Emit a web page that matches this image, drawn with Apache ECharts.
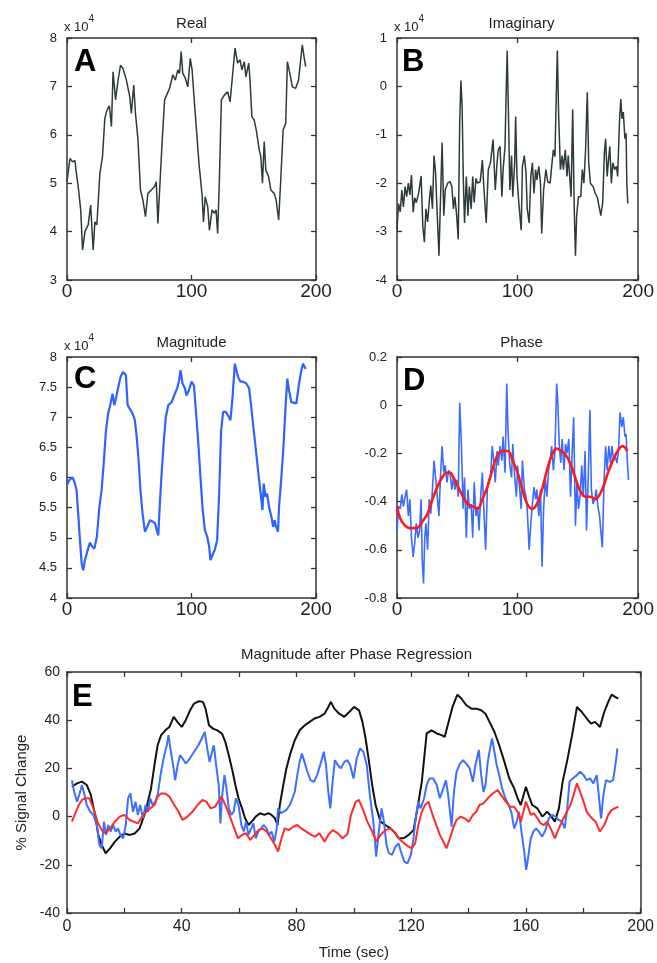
<!DOCTYPE html>
<html>
<head>
<meta charset="utf-8">
<script src="https://cdn.jsdelivr.net/npm/echarts@6/dist/echarts.min.js"></script>
<style>html,body{margin:0;padding:0;background:#fff}#chart{width:657px;height:963px}</style>
</head>
<body>
<div id="chart"></div>
<script>
// ---- Panel A: Real (x 10^4) ----
const realSeries = [[0,5.03],[2.4,5.51],[4.5,5.44],[6.4,5.47],[7.2,5.27],[9,4.93],[11,4.45],[12.5,3.62],[14.4,4.0],[17,4.14],[19,4.55],[21,3.62],[22.4,4.2],[24,4.14],[26.4,5.2],[28.5,5.55],[30.4,6.34],[32,6.5],[34,6.6],[35.7,6.17],[37,7.3],[39,6.72],[41,7.13],[43,7.44],[45,7.37],[47.7,7.13],[50.4,6.79],[51.7,6.44],[53.6,7.03],[55,6.44],[57,5.9],[59,4.86],[61,4.65],[63,4.31],[65,4.79],[67.7,4.86],[70.4,4.93],[71.7,5.03],[73,4.17],[74.4,4.86],[76.5,5.9],[78.4,6.72],[80,6.82],[82.4,6.96],[85,7.24],[87,7.13],[89,7.34],[90.4,7.27],[91.7,7.72],[93,7.27],[95,7.17],[97,6.99],[99,7.58],[100.5,7.34],[102,6.79],[104,6.1],[106,5.41],[108.5,4.76],[109.6,4.2],[111,4.72],[113,4.52],[114.4,4.03],[116.5,4.45],[118.4,4.38],[119.7,4.45],[121,3.96],[122.4,5.07],[124,6.72],[126.4,6.82],[129,6.89],[131,6.68],[133,7.24],[135,7.79],[137,7.48],[139,7.55],[140.5,7.34],[142.4,7.51],[143.7,7.2],[146,7.48],[147,7.13],[148.5,6.37],[150.4,6.3],[152,6.1],[154.4,5.69],[155.7,5.55],[157,5.0],[158.4,5.86],[159.7,5.27],[162,5.13],[163.7,4.86],[166.4,4.79],[168,4.65],[170,4.24],[171.7,5.07],[173.6,6.1],[175.7,6.24],[177,7.51],[179,7.27],[181,6.99],[183.7,6.96],[186,7.13],[187.7,7.55],[189,7.86],[190.4,7.61],[191.7,7.41]];

// ---- Panel B: Imaginary (x 10^4) ----
const imagSeries = [[0,-2.97],[1.3,-2.42],[2.7,-2.59],[4,-2.14],[5.3,-2.49],[6.7,-2.07],[8,-2.28],[9.4,-2.0],[10.7,-2.24],[12,-1.83],[13.4,-2.6],[14.7,-2.3],[16,-2.4],[18,-2.2],[20,-1.85],[21.4,-2.88],[22.7,-3.22],[24,-2.53],[25.4,-2.8],[26.7,-2.4],[28,-2.05],[29.4,-2.53],[30.7,-1.43],[32,-1.78],[33.4,-2.67],[34.8,-3.5],[36,-2.4],[37.4,-1.16],[38.8,-2.67],[40,-2.14],[42,-2.0],[44,-1.97],[45.5,-2.07],[46.8,-2.53],[48,-2.28],[49.5,-2.67],[50.8,-3.16],[52,-0.74],[53,0.12],[54,-0.4],[55,-1.93],[56,-2.82],[57.5,-1.86],[58.8,-2.67],[60,-2.07],[61.5,-2.53],[62.8,-1.86],[64,-2.4],[65.5,-1.9],[66.8,-2.0],[69,-1.97],[70.8,-1.52],[72,-2.07],[74,-2.82],[75.7,-1.72],[77.5,-1.58],[79.7,-1.1],[81.5,-2.14],[83,-1.58],[84,-1.31],[85.5,-1.24],[87,-2.28],[88,-1.72],[89.6,-1.24],[90.4,-0.26],[91.4,0.74],[92.5,-0.67],[93.6,-2.14],[95,-1.43],[96,-2.28],[97.6,-1.58],[98.4,-0.62],[99.5,-1.86],[101,-2.4],[103,-2.97],[104,-1.65],[105.6,-1.43],[107,-1.78],[108,-2.53],[109.6,-2.82],[111,-1.86],[112.3,-1.58],[113.6,-2.21],[115,-1.72],[116,-1.93],[117.6,-1.65],[119,-2.0],[120,-3.04],[121.6,-2.14],[123.5,-1.72],[125,-1.97],[127,-2.0],[128,-1.72],[129.7,-1.31],[131,-1.45],[132.4,0.15],[133,0.74],[134,-0.53],[135.5,-1.72],[137,-1.43],[138,-1.72],[139.6,-1.31],[141,-1.86],[142,-1.43],[144.4,-2.28],[145.7,-0.47],[147,-2.53],[148,-3.5],[149,-2.67],[150.5,-2.28],[152.4,-2.28],[153.7,-1.72],[155,-2.0],[156.4,-1.31],[157.8,-0.12],[159,-1.58],[160.4,-2.0],[162.6,-2.07],[164.4,-2.21],[166,-2.28],[168,-2.53],[169,-2.67],[170.6,-2.4],[172,-1.36],[173,-1.08],[174.3,-1.86],[175.4,-1.52],[176.5,-1.24],[177.8,-2.0],[179,-1.58],[180.5,-1.72],[182,-1.65],[183,-1.86],[184.5,-0.74],[185.6,-0.26],[186.6,-0.67],[187.7,-0.53],[189,-1.08],[190,-0.97],[190.6,-2.0],[191.4,-2.42]];

// ---- Panel C: Magnitude (x 10^4) ----
const magSeries = [[0,5.87],[1.9,5.96],[4.5,6.0],[6.4,5.9],[7.7,5.79],[9,5.4],[10.4,4.96],[11.8,4.57],[13,4.46],[14.4,4.63],[16.3,4.77],[18.4,4.92],[20.3,4.85],[22,4.82],[24,5.02],[26,5.51],[27.8,5.79],[29.7,6.29],[31.3,6.78],[33,7.06],[35,7.23],[36.6,7.39],[38,7.2],[39.3,7.31],[41,7.48],[43,7.67],[45,7.75],[47.3,7.7],[48.7,7.2],[50.5,7.14],[52.7,7.06],[54.5,6.95],[56,6.67],[57.5,6.29],[59,5.79],[60.7,5.4],[62.6,5.1],[64.4,5.18],[66.6,5.29],[68.7,5.27],[70.6,5.24],[72,5.27],[73.3,5.04],[74.6,5.57],[76,6.07],[77.8,6.62],[79.4,7.0],[81.3,7.2],[84,7.25],[86.6,7.39],[88.5,7.48],[90,7.61],[91.2,7.78],[92.8,7.56],[94.7,7.48],[96,7.36],[98,7.45],[100,7.59],[101.9,7.53],[103.5,7.12],[105.3,6.62],[107.2,6.01],[108.8,5.51],[110.7,5.13],[112.6,5.02],[114.2,4.85],[115.2,4.63],[116.8,4.71],[118.7,4.8],[120.6,4.96],[122.2,5.73],[123.8,6.78],[125.4,7.09],[127.5,7.09],[129.4,7.03],[131.3,6.95],[133,7.34],[134.8,7.89],[136,7.78],[137.4,7.67],[139.3,7.59],[141.4,7.59],[144,7.56],[146.3,7.48],[148,7.17],[150,6.78],[152,6.4],[154,6.01],[155.6,5.73],[157,5.46],[158,5.9],[159.4,5.68],[160.7,5.73],[162.3,5.51],[164.2,5.35],[165.5,5.18],[166.8,5.29],[168,5.18],[169.5,5.1],[170.3,5.51],[172.2,6.01],[174,6.56],[175.7,7.23],[177,7.64],[178.3,7.45],[180.2,7.25],[181.6,7.28],[184.2,7.23],[186.4,7.56],[188,7.75],[189.6,7.89],[191.7,7.8]];

// ---- Panel D: Phase (raw) and fitted ----
const phaseSeries = [[0,-0.53],[1.3,-0.42],[2.7,-0.43],[4,-0.37],[5.3,-0.42],[6.7,-0.38],[8,-0.35],[9.4,-0.46],[10.7,-0.39],[12,-0.55],[13.4,-0.63],[14.7,-0.57],[16,-0.49],[17.4,-0.55],[18.7,-0.52],[20,-0.39],[20.9,-0.64],[22,-0.74],[23,-0.55],[24,-0.49],[25.4,-0.6],[26.7,-0.39],[28,-0.45],[29.4,-0.35],[30.7,-0.23],[32,-0.3],[33.4,-0.38],[34.8,-0.46],[36,-0.3],[37.4,-0.17],[38.8,-0.28],[40,-0.25],[41.4,-0.32],[42.8,-0.27],[44,-0.28],[45.5,-0.35],[46.8,-0.3],[48,-0.35],[49.5,-0.31],[50.8,-0.38],[52,0.01],[53.5,-0.17],[54.8,-0.43],[56,-0.3],[57.5,-0.55],[58.8,-0.35],[60,-0.43],[61.5,-0.41],[62.8,-0.55],[64,-0.32],[65.5,-0.46],[66.8,-0.42],[68,-0.52],[69.5,-0.37],[70.8,-0.28],[72,-0.43],[73.5,-0.6],[74.9,-0.35],[76,-0.31],[77.5,-0.3],[79,-0.17],[80.2,-0.23],[81.5,-0.32],[83,-0.19],[84,-0.25],[85.5,-0.17],[87,-0.23],[88,-0.13],[89.6,-0.28],[91,0.09],[92,-0.1],[93.6,-0.25],[95,-0.3],[96,-0.16],[97.6,-0.3],[99,-0.38],[100,-0.25],[101.6,-0.34],[103,-0.43],[104,-0.23],[105.6,-0.35],[107,-0.38],[108,-0.43],[109.6,-0.6],[111,-0.49],[112.3,-0.41],[113.6,-0.34],[115,-0.39],[116,-0.35],[117.6,-0.46],[119,-0.35],[120.3,-0.67],[121.6,-0.43],[123,-0.3],[124.3,-0.38],[125.7,-0.27],[127,-0.23],[128.3,-0.17],[129.7,-0.27],[131,-0.19],[132.4,0.09],[133.4,0.01],[134.5,-0.16],[135.8,-0.24],[137,-0.14],[138.5,-0.27],[139.8,-0.16],[141,-0.2],[142.5,-0.14],[143.9,-0.38],[145,-0.23],[146.5,-0.05],[148,-0.5],[149.2,-0.32],[150.5,-0.43],[152,-0.37],[153.2,-0.25],[154.5,-0.38],[156,-0.19],[157.2,-0.52],[158.6,-0.3],[160,-0.02],[161.2,-0.35],[162.6,-0.41],[164,-0.39],[165.2,-0.35],[166.6,-0.42],[168,-0.46],[169.2,-0.53],[170.3,-0.59],[171.7,-0.32],[173,-0.17],[174.3,-0.27],[175.7,-0.17],[177,-0.24],[178.3,-0.17],[179.7,-0.23],[181,-0.21],[182.4,-0.24],[183.7,-0.19],[185,-0.03],[186.4,-0.09],[187.7,-0.05],[189,-0.13],[190,-0.12],[191,-0.23],[192,-0.31]];
const phaseFitSeries = [[0,-0.42],[2.7,-0.47],[6.7,-0.5],[10.7,-0.51],[16,-0.51],[21.4,-0.48],[25.4,-0.45],[29.4,-0.39],[33.4,-0.34],[37.4,-0.3],[41.4,-0.28],[44,-0.28],[46.8,-0.3],[50.8,-0.34],[54.8,-0.38],[58.8,-0.41],[62.8,-0.42],[66.8,-0.43],[70.8,-0.39],[74.9,-0.34],[79,-0.27],[83,-0.21],[87,-0.19],[89.6,-0.19],[92,-0.19],[96,-0.23],[100,-0.28],[104,-0.35],[108,-0.41],[112.3,-0.43],[116,-0.41],[120.3,-0.35],[124.3,-0.27],[128.3,-0.21],[132.4,-0.18],[136.4,-0.19],[140.4,-0.21],[144.4,-0.25],[148.4,-0.31],[152.4,-0.36],[156.4,-0.38],[160.4,-0.38],[164.4,-0.39],[167,-0.38],[171,-0.34],[175,-0.28],[179,-0.23],[183,-0.19],[187,-0.17],[191,-0.19]];

// ---- Panel E: % signal change ----
const eBlack = [[1.7,12.4],[3.5,13.8],[5.2,14.5],[6.9,13.1],[8.3,9],[9.8,0.7],[10.9,-7.6],[12.1,-11.8],[13.5,-15.2],[15,-13.2],[16.7,-10.4],[18.4,-8.3],[20,-7],[21.9,-7.6],[23.6,-7],[25.3,-4.9],[27,0.7],[28.2,6.2],[29.3,11.7],[30.5,21.4],[31.6,29.6],[32.8,33.8],[34.3,35.8],[35.7,37.2],[37.2,41.4],[38.5,39.3],[40,37.2],[41.4,40],[42.9,44.1],[44.3,46.9],[46,47.9],[47.4,47.6],[48.3,44.8],[49.5,37.9],[50.9,36.5],[52.4,35.8],[54,34.5],[55.2,31],[56.4,25.5],[57.5,20],[58.7,13.1],[59.8,7.6],[61,3.5],[62.1,-0.7],[63.3,-3.5],[64.4,-2.1],[65.8,0],[67.3,1.4],[68.8,0.7],[70.2,1.4],[71.3,0.7],[72.5,-0.7],[73.4,-3.5],[74.2,4.8],[75.4,13.1],[76.5,20],[77.7,25.5],[79.4,31.7],[81.1,35.8],[82.9,37.9],[84.6,39.3],[86.3,40.7],[88,41.4],[89.8,42.7],[91.1,45.5],[92,47.6],[93.2,44.8],[94.9,42.7],[96.7,41.4],[98.4,43.4],[100.1,45.5],[101.8,44.1],[103,39.3],[104.1,32.4],[105.3,22.7],[106.4,13.1],[107.6,4.8],[109.3,-2.1],[111,-3.5],[112.8,-4.9],[114.5,-6.9],[115.6,-9],[117.4,-9],[119.1,-7.6],[120.8,-5.6],[122,2],[123.7,14.5],[125.4,34.5],[127.1,35.8],[128.9,34.5],[130.6,33.8],[131.7,33.1],[132.9,38.6],[134.4,45.5],[136.1,50.6],[137.5,49],[139.2,46.2],[141,44.8],[142.7,44.8],[144.4,44.1],[145.9,42.7],[147.3,39.3],[149,35.2],[150.7,29.6],[152.5,22.7],[154.2,15.8],[155.9,11.7],[157.1,7.6],[158.2,4.8],[160,12.4],[161.1,8.3],[162.2,4.8],[164,3.4],[165.7,0],[167.4,2],[168.9,0],[170.1,-2.1],[171.5,3.4],[172.8,14.5],[174.3,22.7],[176.1,33.8],[177.8,45.5],[179.5,43.4],[181.2,40.7],[182.7,38.6],[184.1,39.3],[185.8,37.2],[187.3,43.4],[188.7,47.6],[189.9,50.6],[191.2,49.6],[192.2,49]];
const eBlue = [[1.7,15.1],[2.5,10.3],[3.5,6.2],[4.4,9.6],[5.2,13.1],[6,9.6],[6.9,4.8],[8.1,2],[9.2,0.7],[10.4,-3.5],[11.3,-11.8],[12.1,-13.2],[12.9,-2.1],[13.6,-7.6],[14.4,-3.5],[15.2,-6.2],[16.1,-3.5],[17,-6.2],[17.8,-4.9],[18.6,-7.6],[19.6,-9],[20.5,-3.5],[21.3,7.6],[22.1,9.6],[23,2],[23.9,6.2],[24.7,0.7],[25.5,4.8],[26.5,-0.7],[27.4,4.8],[28.2,2],[29,7.6],[29.9,4.8],[30.8,6.2],[31.6,9],[32.8,18.6],[33.9,25.5],[34.8,29.6],[35.4,33.8],[36.2,26.9],[37,21.4],[37.7,15.1],[38.6,21.4],[39.4,25.5],[40.3,24.1],[41.4,22],[42.8,24.1],[44.3,26.9],[45.8,29.6],[47,32.4],[48,35.2],[48.9,28.3],[49.7,22.7],[50.6,26.9],[51.2,29.6],[52,21.4],[52.9,13.1],[53.5,-2.8],[54,7.6],[54.9,17.2],[55.6,11.7],[56.4,3.4],[57.3,0.7],[58.1,2],[58.9,7.6],[59.8,4.8],[60.8,-3.5],[61.6,-6.2],[62.4,-2.1],[63.3,-7.6],[64.2,-4.9],[65,-2.8],[65.8,-9],[66.7,-6.2],[67.7,-4.9],[68.5,-3.5],[69.6,-4.9],[70.4,-7.6],[71.3,-6.2],[72.3,-10.4],[73.1,-4.9],[73.6,3.4],[74.6,1.4],[75.4,2],[76.5,2.8],[77.7,4.8],[78.6,7.6],[79.4,10.3],[80.3,17.2],[81.1,22.7],[81.9,26.2],[82.8,22.7],[83.8,18.6],[84.9,15.1],[86.1,14.4],[87.2,17.2],[88.6,22.7],[89.5,26.9],[90.3,21.4],[91.1,10.3],[91.8,3.4],[92.6,14.4],[93.4,23.4],[94.4,21.4],[95.5,20],[96.7,22.7],[97.8,23.4],[98.7,21.4],[99.9,15.8],[101,24.1],[102.2,28.3],[103.3,26.9],[104.5,21.4],[105.6,8.9],[106.8,-2.1],[107.8,-16.6],[108.7,-6.2],[109.7,3.4],[110.5,-2.1],[111.4,-11.8],[112.2,-15.2],[113.3,-15.9],[114.5,-12.5],[115.6,-11.1],[116.4,-14.5],[117.6,-18.7],[118.7,-19.4],[119.9,-15.9],[120.8,-9],[121.7,0.7],[122.5,6.2],[123.3,3.4],[124.5,7.6],[125.4,13.1],[126.3,15.8],[127.7,15.8],[128.9,13.1],[130,7.6],[131.2,11.7],[132.1,15.1],[132.9,8.9],[134.1,-4.2],[134.9,10.3],[135.8,18.6],[137,22],[138.1,23.4],[139.2,22],[140.4,20],[141.5,14.4],[142.4,21.4],[143.6,27.6],[144.4,17.2],[145.2,10.3],[145.9,13.1],[146.7,22.7],[147.5,28.3],[148.2,32.4],[149,26.9],[149.8,21.4],[150.7,17.2],[151.7,11.7],[152.8,7.6],[154,4.8],[154.9,2],[155.9,-4.9],[156.8,-2.1],[157.6,2],[158.6,-7.6],[159.4,-14.5],[160.1,-22.1],[160.9,-15.9],[161.7,-9],[162.6,-6.2],[163.6,-4.9],[164.5,-6.2],[165.7,-8.3],[166.8,-5.6],[168,-0.7],[169.1,0.7],[170.3,0],[171.4,-1.4],[172.6,-2.1],[173.5,-4.9],[174.4,3.4],[175.2,14.5],[176.3,15.8],[177.8,17.2],[178.9,18.6],[180.1,17.2],[181.2,15.1],[182.4,15.8],[183.5,13.8],[184.7,17.2],[185.5,7.6],[186.2,-0.7],[187,8.9],[187.9,15.1],[189.3,14.4],[190.4,15.1],[191.2,21.4],[191.9,28.3]];
const eRed = [[1.7,-2.1],[2.9,1.4],[4.1,4.8],[5.2,6.9],[6.3,7.6],[7.8,7.6],[9.2,3.4],[10.6,-2.1],[12.1,-5.6],[13.5,-6.9],[15,-4.9],[16.7,-2.1],[18.4,0],[20,0.7],[21.9,-1.4],[23.2,-2.1],[24.7,-2.8],[26.2,0],[27.6,2],[29,3.4],[30.5,4.8],[31.6,8.3],[32.8,9.6],[34.3,9.6],[35.7,8.3],[37.4,4.8],[38.9,2],[40.3,-1.4],[42,0],[43.7,2],[45.5,4.8],[47.2,6.9],[48.6,6.2],[50.1,3.4],[51.6,4.1],[52.7,6.2],[53.9,8.3],[55.2,4.8],[56.6,0.7],[58.1,-4.2],[59.6,-9],[61,-7.6],[62.4,-6.9],[63.9,-9.7],[65.4,-7.6],[66.7,-5.6],[68.1,-4.9],[69.6,-6.2],[71.1,-9],[72.5,-11.8],[73.6,-14.5],[74.8,-9],[75.9,-4.9],[77.3,-5.6],[78.8,-4.2],[80.3,-3.5],[81.7,-4.9],[83.4,-6.2],[85.2,-7.6],[86.5,-8.3],[88,-6.9],[89.8,-10.4],[91.1,-7.6],[92.6,-5.6],[94.4,-6.9],[96.1,-9],[97.8,-7.2],[99,0.7],[100.7,6.2],[101.8,6.9],[103,3.4],[104.7,-2.1],[106.4,-6.2],[107.9,-10.4],[109.3,-7.6],[111,-5.6],[112.8,-4.9],[114.5,-6.9],[116.2,-9.7],[117.6,-11.1],[119.1,-12.5],[120.2,-13.2],[121.4,-11.1],[122.5,-3.5],[123.7,2],[124.8,4.8],[126,6.2],[127.1,2],[128.3,-2.1],[130,-7.6],[131.2,-10.4],[132.3,-13.2],[133.5,-9],[134.6,-4.9],[135.8,-1.4],[137.3,0],[138.6,-0.7],[140.1,-2.1],[141.5,0.7],[142.7,2],[143.8,4.8],[145.2,5.5],[146.7,7.6],[148.4,9.6],[150.2,11],[151.7,8.3],[153,6.2],[154.4,4.1],[155.9,4.1],[157.1,2],[158.2,-2.1],[159.1,2],[160,6.2],[160.9,3.4],[161.7,0.7],[162.8,1.4],[164,-0.7],[165.1,-2.8],[166.3,-3.5],[167.4,-2.1],[168.6,-4.9],[170.1,-9],[171.5,-4.9],[172.8,-1.4],[174.3,2],[175.5,4.8],[176.6,8.9],[177.8,13.8],[178.9,10.3],[180.1,6.2],[181.2,2],[183,-0.7],[184.3,-2.1],[185.8,-6.2],[187.3,-3.5],[188.7,0.7],[189.9,2.8],[191,3.4],[192.2,4.1]];

// ---- Titles / labels ----
const panelTitles = ['Real', 'Imaginary', 'Magnitude', 'Phase', 'Magnitude after Phase Regression'];
const panelLetters = ['A', 'B', 'C', 'D', 'E'];
const eYName = '% Signal Change';
const eXName = 'Time (sec)';

const FONT = '"Liberation Sans", Arial, Helvetica, sans-serif';
const INK = '#222222';

const grids = [
  {left: 67, top: 38, width: 249, height: 242},
  {left: 397, top: 38, width: 249, height: 242},
  {left: 67, top: 357, width: 249, height: 241},
  {left: 397, top: 357, width: 249, height: 241},
  {left: 67, top: 672, width: 579, height: 241}
];

const xAxes = [], yAxes = [];
function frame(g, xs, ys, cfg) {
  const line = {show: true, onZero: false, lineStyle: {color: '#333', width: 1.5}};
  const tick = {show: true, inside: true, length: 5, lineStyle: {color: '#333', width: 1.3}};
  const base = {type: 'value', gridIndex: g, splitLine: {show: false}, axisLine: line, axisTick: tick};
  xAxes.push(Object.assign({}, base, {position: 'bottom', min: xs[0], max: xs[1], interval: xs[2],
    axisLabel: {show: true, fontFamily: FONT, fontSize: cfg.xFont, color: INK, margin: cfg.xMargin,
      formatter: cfg.xFmt || (v => String(v))},
    name: cfg.xName || '', nameLocation: 'middle', nameGap: 32,
    nameTextStyle: {fontFamily: FONT, fontSize: 15, color: INK}}));
  xAxes.push(Object.assign({}, base, {position: 'top', min: xs[0], max: xs[1], interval: xs[2], axisLabel: {show: false}}));
  yAxes.push(Object.assign({}, base, {position: 'left', min: ys[0], max: ys[1], interval: ys[2],
    axisLabel: {show: true, fontFamily: FONT, fontSize: cfg.yFont, color: INK, margin: cfg.yMargin},
    name: cfg.yName || '', nameLocation: cfg.yNameLoc || 'end', nameGap: cfg.yNameGap || 4, nameRotate: cfg.yNameRotate || 0,
    nameTextStyle: cfg.yNameStyle || {}}));
  yAxes.push(Object.assign({}, base, {position: 'right', min: ys[0], max: ys[1], interval: ys[2], axisLabel: {show: false}}));
}
const expName = {
  yName: '{b|x 10}{s|4}',
  yNameStyle: {align: 'left', padding: [0, 0, 0, -3], fontFamily: FONT, color: INK,
    rich: {b: {fontSize: 13, lineHeight: 20, verticalAlign: 'bottom', fontFamily: FONT, color: INK},
           s: {fontSize: 10, lineHeight: 20, verticalAlign: 'top', fontFamily: FONT, color: INK}}},
  yNameGap: 0
};
const topCfg = {xFont: 19, xMargin: 2, yFont: 13, yMargin: 10};
frame(0, [0, 200, 100], [3, 8, 1], Object.assign({}, topCfg, expName));
frame(1, [0, 200, 100], [-4, 1, 1], Object.assign({}, topCfg, expName));
frame(2, [0, 200, 100], [4, 8, 0.5], Object.assign({}, topCfg, expName));
frame(3, [0, 200, 100], [-0.8, 0.2, 0.2], Object.assign({}, topCfg));
frame(4, [0, 200, 20], [-40, 60, 20], {xFont: 16, xMargin: 6, yFont: 14, yMargin: 7,
  xFmt: v => (v % 40 === 0 ? String(v) : ''), xName: eXName,
  yName: eYName, yNameLoc: 'middle', yNameGap: 38, yNameRotate: 90,
  yNameStyle: {fontFamily: FONT, fontSize: 15, color: INK}});

const titlePos = [[191.5, 16], [521.5, 16], [191.5, 335], [521.5, 335], [356.5, 647]];
const letterPos = [[74, 47], [402, 47], [74, 364], [403, 366], [72, 682]];
const titles = [];
panelTitles.forEach((t, i) => titles.push({text: t, left: titlePos[i][0], top: titlePos[i][1], textAlign: 'center', padding: 0,
  textStyle: {fontFamily: FONT, fontSize: 15, fontWeight: 'normal', color: INK}}));
panelLetters.forEach((t, i) => titles.push({text: t, left: letterPos[i][0], top: letterPos[i][1], padding: 0,
  textStyle: {fontFamily: FONT, fontSize: 31, fontWeight: 'bold', color: '#000'}}));

function line(data, g, color, width, smooth) {
  return {type: 'line', data: data, xAxisIndex: 2 * g, yAxisIndex: 2 * g, showSymbol: false, symbol: 'none',
    smooth: smooth || false, lineStyle: {color: color, width: width}, itemStyle: {color: color}, silent: true};
}

const chart = echarts.init(document.getElementById('chart'), null, {renderer: 'canvas'});
chart.setOption({
  animation: false,
  backgroundColor: '#fff',
  title: titles,
  grid: grids,
  xAxis: xAxes,
  yAxis: yAxes,
  series: [
    line(realSeries, 0, '#2d3b3b', 1.5),
    line(imagSeries, 1, '#2d3b3b', 1.5),
    line(magSeries, 2, '#2f63ff', 2.2),
    line(phaseSeries, 3, '#3a6cff', 1.6),
    line(phaseFitSeries, 3, '#ff1a1a', 2.6, 0.4),
    line(eBlack, 4, '#111111', 2),
    line(eBlue, 4, '#3d70ff', 2),
    line(eRed, 4, '#ff2b2b', 2)
  ]
});
</script>
</body>
</html>
